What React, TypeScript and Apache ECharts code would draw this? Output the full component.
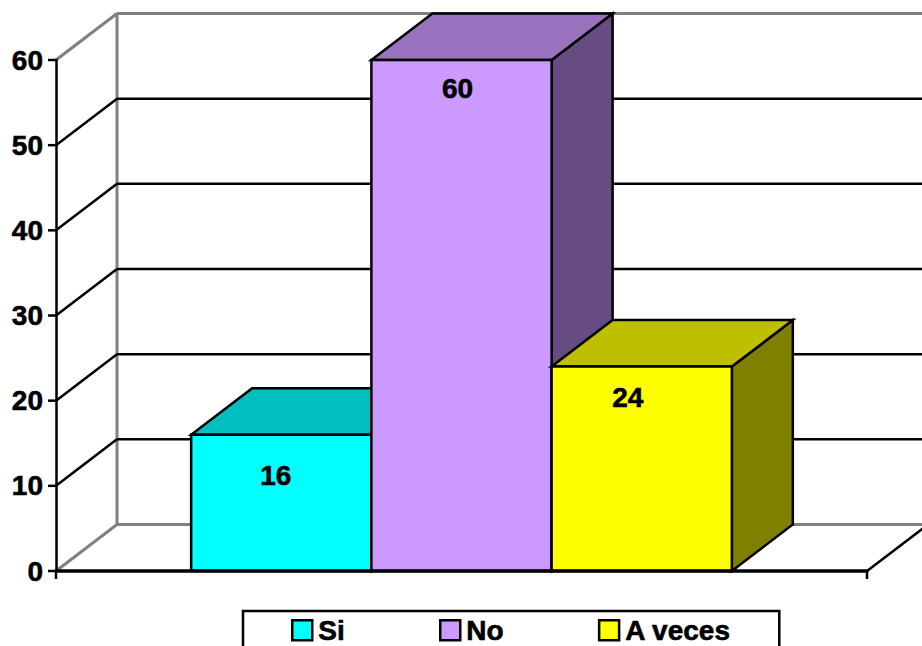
import React, { useEffect, useRef } from "react";
import * as echarts from "echarts";

const categories = [""];
const seriesNames = ["Si", "No", "A veces"];
const seriesValues = [16, 60, 24];
const yTicks = [0, 10, 20, 30, 40, 50, 60];
const frontColors = ["#00FFFF", "#CC99FF", "#FFFF00"];
const topColors = ["#00BFBF", "#9973BF", "#BFBF00"];
const sideColors = ["#008080", "#664C80", "#808000"];
// Hand-placed value labels: shift from the centre of each bar and drop below its top edge.
const labelShiftX = [-5.5, -4, -14];
const labelDropY = [41, 28.5, 31];

const FONT = '"Liberation Sans", Arial, sans-serif';
const DEPTH_X = 61;
const DEPTH_Y = -46.5;
const BAR_SHARE = 2 / 9;
const TICK_LENGTH = 8;
const WALL_GRAY = "#808080";

function wallItem(params: any, api: any) {
  const tick = api.value(0);
  const sys = params.coordSys;
  const [, y] = api.coord([0, tick]);
  const left = sys.x;
  const right = sys.x + sys.width;
  const isEdge = tick === yTicks[0] || tick === yTicks[yTicks.length - 1];
  const color = isEdge ? WALL_GRAY : "#000";
  const width = isEdge ? 3 : 2.5;
  const seg = (x1: number, y1: number, x2: number, y2: number, stroke: string, lineWidth: number) => ({
    type: "line",
    shape: { x1, y1, x2, y2 },
    style: { stroke, lineWidth, fill: "none" },
  });
  const children: any[] = [
    seg(left, y, left + DEPTH_X, y + DEPTH_Y, color, width),
    seg(left + DEPTH_X, y + DEPTH_Y, right + DEPTH_X, y + DEPTH_Y, color, width),
    // outward tick on the value axis
    seg(left - TICK_LENGTH, y, left, y, "#000", 2.5),
  ];
  if (tick === yTicks[0]) {
    const [, yTop] = api.coord([0, yTicks[yTicks.length - 1]]);
    children.push(seg(left + DEPTH_X, y + DEPTH_Y, left + DEPTH_X, yTop + DEPTH_Y, WALL_GRAY, 3));
    children.push(seg(right, y, right + DEPTH_X, y + DEPTH_Y, "#000", 2.5));
    // ticks at both ends of the category band
    children.push(seg(left, y, left, y + TICK_LENGTH, "#000", 2.5));
    children.push(seg(right, y, right, y + TICK_LENGTH, "#000", 2.5));
  }
  return { type: "group", children };
}

function barItem(index: number) {
  return (_params: any, api: any) => {
    const value = api.value(1);
    const [cx, yTop] = api.coord([0, value]);
    const [, yBase] = api.coord([0, 0]);
    const band = api.size([1, 0])[0];
    const w = band * BAR_SHARE;
    const x0 = cx - (seriesValues.length * w) / 2 + index * w;
    const x1 = x0 + w;
    const poly = (points: number[][], fill: string) => ({
      type: "polygon",
      shape: { points },
      style: { fill, stroke: "#000", lineWidth: 2.5, lineJoin: "miter" },
    });
    return {
      type: "group",
      children: [
        poly(
          [[x1, yBase], [x1 + DEPTH_X, yBase + DEPTH_Y], [x1 + DEPTH_X, yTop + DEPTH_Y], [x1, yTop]],
          sideColors[index],
        ),
        poly(
          [[x0, yTop], [x0 + DEPTH_X, yTop + DEPTH_Y], [x1 + DEPTH_X, yTop + DEPTH_Y], [x1, yTop]],
          topColors[index],
        ),
        poly([[x0, yBase], [x1, yBase], [x1, yTop], [x0, yTop]], frontColors[index]),
        {
          type: "text",
          style: {
            text: String(value),
            x: (x0 + x1) / 2 + labelShiftX[index],
            y: yTop + labelDropY[index],
            align: "center",
            verticalAlign: "middle",
            font: `bold 28px ${FONT}`,
            fill: "#000",
            stroke: "#000",
            lineWidth: 0.6,
          },
        },
      ],
    };
  };
}

export default function App() {
  const ref = useRef<HTMLDivElement>(null);

  useEffect(() => {
    const chart = echarts.init(ref.current!, undefined, { renderer: "svg" });
    chart.setOption({
      animation: false,
      backgroundColor: "#fff",
      grid: { left: 56, right: 55, top: 60, bottom: 75 },
      xAxis: {
        type: "category",
        data: categories,
        axisLine: { lineStyle: { color: "#000", width: 3.5 } },
        axisTick: { show: false },
        axisLabel: { show: false },
        z: 5,
      },
      yAxis: {
        type: "value",
        min: 0,
        max: 60,
        interval: 10,
        splitLine: { show: false },
        axisLine: { show: true, lineStyle: { color: "#000", width: 2.5 } },
        axisTick: { show: false },
        axisLabel: {
          margin: 13,
          color: "#000",
          fontFamily: FONT,
          fontWeight: "bold",
          fontSize: 28,
          textBorderColor: "#000",
          textBorderWidth: 0.6,
        },
        z: 5,
      },
      legend: {
        left: 243,
        top: 611,
        data: seriesNames,
        icon: "rect",
        itemWidth: 20,
        itemHeight: 20,
        itemGap: 94,
        padding: [5, 48, 24, 48],
        borderColor: "#000",
        borderWidth: 2.5,
        itemStyle: { borderColor: "#000", borderWidth: 2.5 },
        textStyle: {
          color: "#000",
          fontFamily: FONT,
          fontWeight: "bold",
          fontSize: 28,
          lineHeight: 26,
          padding: [0, 0, 0, 1],
          textBorderColor: "#000",
          textBorderWidth: 0.6,
        },
        selectedMode: false,
      },
      series: [
        {
          type: "custom",
          name: "walls",
          silent: true,
          clip: false,
          z: 1,
          renderItem: wallItem,
          data: yTicks.map((t) => [t]),
          encode: { y: 0 },
        },
        ...seriesNames.map((name, i) => ({
          type: "custom",
          name,
          silent: true,
          clip: false,
          z: 2,
          itemStyle: { color: frontColors[i] },
          renderItem: barItem(i),
          data: [[0, seriesValues[i]]],
          encode: { x: 0, y: 1 },
        })),
      ],
    });
    return () => chart.dispose();
  }, []);

  return (
    <div
      ref={ref}
      style={{ position: "absolute", left: 0, top: 0, width: 922, height: 646, overflow: "hidden" }}
    />
  );
}
